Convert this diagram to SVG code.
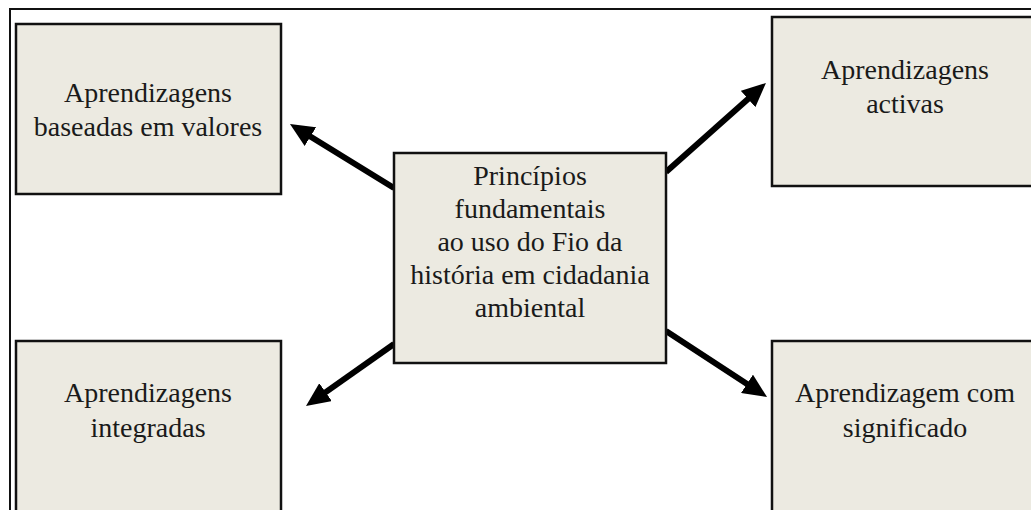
<svg xmlns="http://www.w3.org/2000/svg" width="1031" height="510" viewBox="0 0 1031 510">
<style>
.box{fill:#ECEAE1;stroke:#111;stroke-width:2.5}
.t{font-family:"Liberation Serif","Times New Roman",serif;font-size:28px;fill:#1a1a1a;text-anchor:middle}
.c{stroke:#000;stroke-width:6;fill:none;marker-end:url(#ah)}
</style>
<defs>
<marker id="ah" markerUnits="userSpaceOnUse" viewBox="0 0 24 22" markerWidth="24" markerHeight="22" refX="12" refY="11" orient="auto">
<path d="M0,0 L24,11 L0,22 z" fill="#000"/>
</marker>
</defs>
<rect x="0" y="0" width="1031" height="510" fill="#fff"/>
<rect x="10" y="9" width="1040" height="520" fill="none" stroke="#111" stroke-width="2"/>
<g id="connectors">
<line class="c" x1="394" y1="188" x2="300.2" y2="130.3"/>
<line class="c" x1="666" y1="172" x2="757" y2="91"/>
<line class="c" x1="394" y1="344" x2="315.8" y2="399.1"/>
<line class="c" x1="666" y1="331" x2="757" y2="390.4"/>
</g>
<g id="center">
<rect class="box" x="394" y="153" width="272" height="210"/>
<text class="t" x="530" y="185">Princípios</text>
<text class="t" x="530" y="218">fundamentais</text>
<text class="t" x="530" y="251">ao uso do Fio da</text>
<text class="t" x="530" y="284">história em cidadania</text>
<text class="t" x="530" y="317">ambiental</text>
</g>
<g id="valores">
<rect class="box" x="16" y="24" width="265" height="170"/>
<text class="t" x="148" y="102">Aprendizagens</text>
<text class="t" x="148" y="136">baseadas em valores</text>
</g>
<g id="activas">
<rect class="box" x="772" y="17" width="280" height="169"/>
<text class="t" x="905" y="79">Aprendizagens</text>
<text class="t" x="905" y="113">activas</text>
</g>
<g id="integradas">
<rect class="box" x="16" y="341" width="265" height="200"/>
<text class="t" x="148" y="402">Aprendizagens</text>
<text class="t" x="148" y="437">integradas</text>
</g>
<g id="significado">
<rect class="box" x="772" y="341" width="280" height="200"/>
<text class="t" x="905" y="402">Aprendizagem com</text>
<text class="t" x="905" y="437">significado</text>
</g>
</svg>
